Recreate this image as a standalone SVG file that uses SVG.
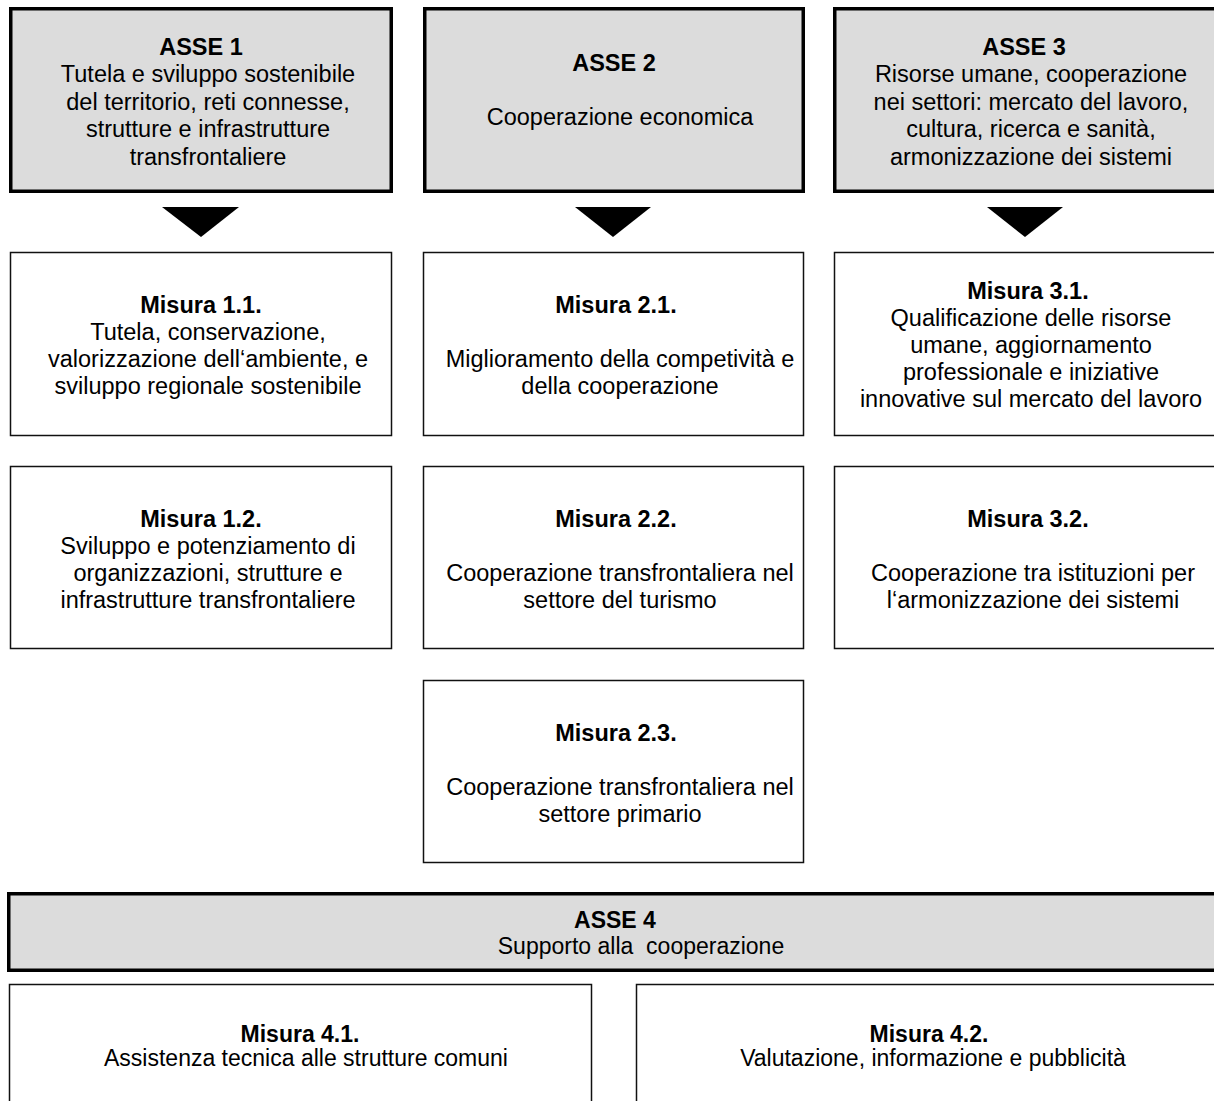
<svg xmlns="http://www.w3.org/2000/svg" width="1214" height="1101" viewBox="0 0 1214 1101">
<style>
.asse{fill:#dcdcdc;stroke:#000;stroke-width:3.5}
.mis{fill:#fff;stroke:#111;stroke-width:1.5}
text{font-family:"Liberation Sans",Arial,sans-serif;font-size:23.5px;fill:#000;text-anchor:middle}
.b{font-weight:bold}
.n{font-size:23px}
.arr{fill:#000}
</style>
<rect width="1214" height="1101" fill="#fff"/>
<g id="asse1">
<rect class="asse" x="10.75" y="8.75" width="380.5" height="182.5"/>
<text class="b" x="201" y="55">ASSE 1</text>
<text x="208" y="82">Tutela e sviluppo sostenibile</text>
<text x="208" y="110">del territorio, reti connesse,</text>
<text x="208" y="137">strutture e infrastrutture</text>
<text x="208" y="165">transfrontaliere</text>
</g>
<g id="asse2">
<rect class="asse" x="424.75" y="8.75" width="378.5" height="182.5"/>
<text class="b" x="614" y="71">ASSE 2</text>
<text x="620" y="125">Cooperazione economica</text>
</g>
<g id="asse3">
<rect class="asse" x="834.75" y="8.75" width="390" height="182.5"/>
<text class="b" x="1024" y="55">ASSE 3</text>
<text x="1031" y="82">Risorse umane, cooperazione</text>
<text x="1031" y="110">nei settori: mercato del lavoro,</text>
<text x="1031" y="137">cultura, ricerca e sanità,</text>
<text x="1031" y="165">armonizzazione dei sistemi</text>
</g>
<g id="connectors">
<polygon class="arr" points="162,207 239,207 201,237"/>
<polygon class="arr" points="575,207 651,207 613,237"/>
<polygon class="arr" points="987,207 1063,207 1025,237"/>
</g>
<g id="misura11">
<rect class="mis" x="10.5" y="252.5" width="381" height="183"/>
<text class="b" x="201" y="313">Misura 1.1.</text>
<text x="208" y="340">Tutela, conservazione,</text>
<text x="208" y="367">valorizzazione dell‘ambiente, e</text>
<text x="208" y="394">sviluppo regionale sostenibile</text>
</g>
<g id="misura12">
<rect class="mis" x="10.5" y="466.5" width="381" height="182"/>
<text class="b" x="201" y="527">Misura 1.2.</text>
<text x="208" y="554">Sviluppo e potenziamento di</text>
<text x="208" y="581">organizzazioni, strutture e</text>
<text x="208" y="608">infrastrutture transfrontaliere</text>
</g>
<g id="misura21">
<rect class="mis" x="423.5" y="252.5" width="380" height="183"/>
<text class="b" x="616" y="313">Misura 2.1.</text>
<text x="620" y="367">Miglioramento della competività e</text>
<text x="620" y="394">della cooperazione</text>
</g>
<g id="misura22">
<rect class="mis" x="423.5" y="466.5" width="380" height="182"/>
<text class="b" x="616" y="527">Misura 2.2.</text>
<text x="620" y="581">Cooperazione transfrontaliera nel</text>
<text x="620" y="608">settore del turismo</text>
</g>
<g id="misura23">
<rect class="mis" x="423.5" y="680.5" width="380" height="182"/>
<text class="b" x="616" y="741">Misura 2.3.</text>
<text x="620" y="795">Cooperazione transfrontaliera nel</text>
<text x="620" y="822">settore primario</text>
</g>
<g id="misura31">
<rect class="mis" x="834.5" y="252.5" width="390" height="183"/>
<text class="b" x="1028" y="299">Misura 3.1.</text>
<text x="1031" y="326">Qualificazione delle risorse</text>
<text x="1031" y="353">umane, aggiornamento</text>
<text x="1031" y="380">professionale e iniziative</text>
<text x="1031" y="407">innovative sul mercato del lavoro</text>
</g>
<g id="misura32">
<rect class="mis" x="834.5" y="466.5" width="390" height="182"/>
<text class="b" x="1028" y="527">Misura 3.2.</text>
<text x="1033" y="581">Cooperazione tra istituzioni per</text>
<text x="1033" y="608">l‘armonizzazione dei sistemi</text>
</g>
<g id="asse4">
<rect class="asse" x="8.75" y="893.75" width="1220" height="76.5"/>
<text class="b n" x="615" y="928">ASSE 4</text>
<text class="n" x="641" y="954" xml:space="preserve">Supporto alla  cooperazione</text>
</g>
<g id="misura41">
<rect class="mis" x="9.5" y="984.5" width="582" height="130"/>
<text class="b n" x="300" y="1042">Misura 4.1.</text>
<text class="n" x="306" y="1066">Assistenza tecnica alle strutture comuni</text>
</g>
<g id="misura42">
<rect class="mis" x="636.5" y="984.5" width="590" height="130"/>
<text class="b n" x="929" y="1042">Misura 4.2.</text>
<text class="n" x="933" y="1066">Valutazione, informazione e pubblicità</text>
</g>
</svg>
